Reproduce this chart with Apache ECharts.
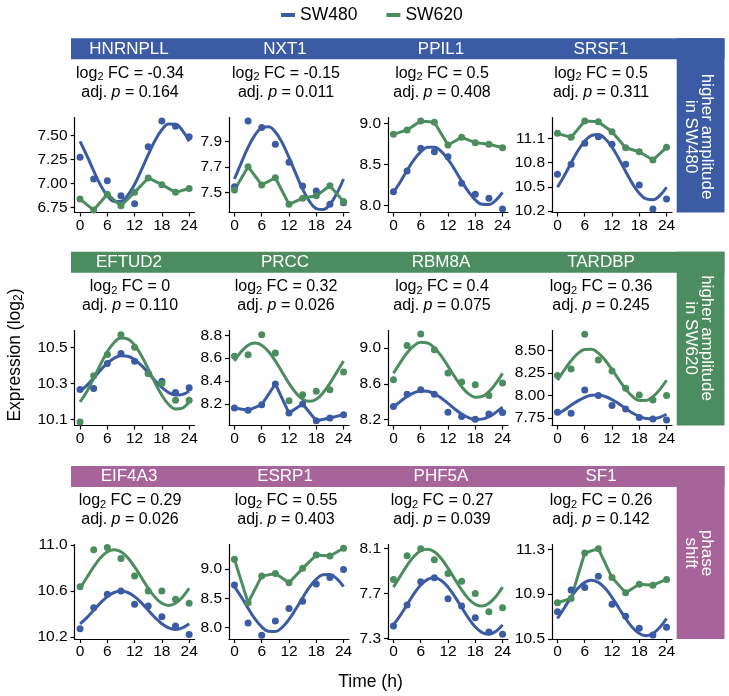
<!DOCTYPE html>
<html><head><meta charset="utf-8">
<script src="https://cdn.jsdelivr.net/npm/echarts@6/dist/echarts.min.js"></script>
<style>html,body{margin:0;padding:0;background:#fff}#c{width:729px;height:696px}</style>
</head><body><div id="c"></div>
<script>
// ---------- data ----------
const hours = [0, 3, 6, 9, 12, 15, 18, 21, 24];
const fitHours = [0, 1.5, 3, 4.5, 6, 7.5, 9, 10.5, 12, 13.5, 15, 16.5, 18, 19.5, 21, 22.5, 24];
const xTicks = [0, 6, 12, 18, 24];
const genes = ['HNRNPLL', 'NXT1', 'PPIL1', 'SRSF1', 'EFTUD2', 'PRCC', 'RBM8A', 'TARDBP', 'EIF4A3', 'ESRP1', 'PHF5A', 'SF1'];
const log2FC = ['-0.34', '-0.15', '0.5', '0.5', '0', '0.32', '0.4', '0.36', '0.29', '0.55', '0.27', '0.26'];
const adjP = ['0.164', '0.011', '0.408', '0.311', '0.110', '0.026', '0.075', '0.245', '0.026', '0.403', '0.039', '0.142'];
const groupLabels = ['higher amplitude\nin SW480', 'higher amplitude\nin SW620', 'phase\nshift'];

const sw480Points = [
  [7.275, 7.05, 7.03, 6.875, 6.79, 7.385, 7.653, 7.60, 7.49],
  [7.544, 8.064, 8.011, 7.879, 7.737, 7.55, 7.51, 7.405, 7.418],
  [8.17, 8.421, 8.697, 8.655, 8.595, 8.272, 8.138, 8.09, 7.96],
  [10.654, 10.778, 11.038, 11.12, 11.026, 10.778, 10.521, 10.224, 10.348],
  [10.267, 10.272, 10.41, 10.466, 10.423, 10.355, 10.313, 10.25, 10.276],
  [8.165, 8.145, 8.194, 8.375, 8.121, 8.2, 8.054, 8.078, 8.107],
  [8.348, 8.485, 8.533, 8.485, 8.284, 8.236, 8.206, 8.262, 8.281],
  [7.814, 7.803, 8.062, 8.0, 7.889, 7.851, 7.755, 7.739, 7.728],
  [10.272, 10.455, 10.571, 10.6, 10.484, 10.469, 10.377, 10.295, 10.222],
  [8.726, 8.079, 7.868, 8.113, 8.326, 8.451, 8.743, 8.857, 8.994],
  [7.413, 7.597, 7.803, 7.838, 7.653, 7.588, 7.486, 7.36, 7.34],
  [10.743, 10.936, 10.96, 11.06, 10.811, 10.704, 10.595, 10.535, 10.604]
];
const sw620Points = [
  [6.84, 6.725, 6.89, 6.77, 6.91, 7.06, 6.99, 6.91, 6.95],
  [7.518, 7.702, 7.558, 7.615, 7.405, 7.453, 7.473, 7.552, 7.426],
  [8.866, 8.919, 9.028, 9.012, 8.737, 8.83, 8.765, 8.745, 8.704],
  [11.162, 11.112, 11.314, 11.306, 11.182, 10.984, 10.934, 10.831, 10.988],
  [10.088, 10.343, 10.46, 10.57, 10.5, 10.355, 10.3, 10.208, 10.208],
  [8.617, 8.631, 8.805, 8.645, 8.229, 8.281, 8.311, 8.325, 8.48],
  [8.645, 9.029, 9.155, 8.98, 8.72, 8.619, 8.589, 8.47, 8.608],
  [8.223, 8.297, 8.683, 8.397, 8.274, 8.081, 8.007, 7.951, 8.0],
  [10.638, 10.958, 10.979, 10.883, 10.731, 10.6, 10.6, 10.528, 10.493],
  [9.166, 8.425, 8.88, 8.926, 8.765, 9.012, 9.24, 9.223, 9.355],
  [7.823, 8.034, 8.096, 7.999, 7.876, 7.808, 7.7, 7.539, 7.574],
  [10.823, 10.862, 11.267, 11.306, 11.048, 10.912, 10.989, 10.98, 11.031]
];
// fitted rhythmic curves, values read at fitHours; null = no fit drawn for that cell line
const sw480Fit = [
  [7.441, 7.293, 7.133, 6.986, 6.874, 6.815, 6.817, 6.880, 6.995, 7.143, 7.303, 7.450, 7.562, 7.621, 7.619, 7.556, 7.441],
  [7.605, 7.733, 7.855, 7.952, 8.009, 8.017, 7.976, 7.891, 7.775, 7.647, 7.525, 7.428, 7.371, 7.363, 7.404, 7.489, 7.605],
  [8.162, 8.288, 8.427, 8.555, 8.654, 8.708, 8.710, 8.659, 8.562, 8.436, 8.298, 8.169, 8.070, 8.016, 8.014, 8.065, 8.162],
  [10.494, 10.637, 10.795, 10.946, 11.065, 11.135, 11.146, 11.095, 10.990, 10.847, 10.689, 10.539, 10.419, 10.349, 10.339, 10.390, 10.494],
  [10.258, 10.290, 10.331, 10.374, 10.412, 10.440, 10.454, 10.451, 10.432, 10.400, 10.359, 10.317, 10.278, 10.250, 10.236, 10.239, 10.258],
  null,
  [8.340, 8.403, 8.459, 8.500, 8.521, 8.517, 8.489, 8.442, 8.382, 8.319, 8.263, 8.222, 8.201, 8.206, 8.233, 8.281, 8.340],
  [7.791, 7.838, 7.891, 7.940, 7.979, 8.002, 8.006, 7.989, 7.955, 7.908, 7.856, 7.806, 7.767, 7.744, 7.740, 7.757, 7.791],
  [10.315, 10.369, 10.433, 10.497, 10.551, 10.587, 10.600, 10.587, 10.551, 10.497, 10.433, 10.369, 10.315, 10.279, 10.266, 10.279, 10.315],
  [8.700, 8.523, 8.330, 8.150, 8.012, 7.936, 7.933, 8.005, 8.140, 8.317, 8.510, 8.690, 8.828, 8.904, 8.907, 8.835, 8.700],
  [7.422, 7.506, 7.602, 7.696, 7.774, 7.824, 7.838, 7.814, 7.756, 7.672, 7.576, 7.482, 7.404, 7.354, 7.340, 7.364, 7.422],
  [10.683, 10.777, 10.872, 10.952, 11.005, 11.024, 11.005, 10.952, 10.872, 10.777, 10.683, 10.602, 10.549, 10.530, 10.549, 10.602, 10.683]
];
const sw620Fit = [
  null, null, null, null,
  [10.198, 10.256, 10.329, 10.406, 10.476, 10.527, 10.551, 10.546, 10.512, 10.454, 10.381, 10.304, 10.235, 10.184, 10.159, 10.164, 10.198],
  [8.576, 8.658, 8.714, 8.733, 8.714, 8.658, 8.576, 8.478, 8.380, 8.298, 8.242, 8.223, 8.242, 8.298, 8.380, 8.478, 8.576],
  [8.717, 8.837, 8.945, 9.025, 9.063, 9.056, 9.002, 8.912, 8.797, 8.677, 8.569, 8.489, 8.451, 8.459, 8.512, 8.603, 8.717],
  [8.170, 8.283, 8.388, 8.469, 8.514, 8.515, 8.473, 8.394, 8.290, 8.177, 8.072, 7.991, 7.946, 7.945, 7.987, 8.066, 8.170],
  [10.624, 10.717, 10.810, 10.888, 10.941, 10.959, 10.941, 10.888, 10.810, 10.717, 10.624, 10.546, 10.493, 10.475, 10.493, 10.546, 10.624],
  null,
  [7.756, 7.853, 7.949, 8.027, 8.078, 8.092, 8.068, 8.009, 7.924, 7.827, 7.732, 7.653, 7.603, 7.588, 7.613, 7.671, 7.756],
  null
];
const yMin = [6.700, 7.340, 7.917, 10.181, 10.068, 8.012, 8.135, 7.666, 10.183, 7.805, 7.297, 10.500];
const yMax = [7.690, 8.091, 9.070, 11.358, 10.593, 8.842, 9.195, 8.725, 11.004, 9.420, 8.133, 11.343];
const yTickLabels = [
  ['6.75', '7.00', '7.25', '7.50'],
  ['7.5', '7.7', '7.9'],
  ['8.0', '8.5', '9.0'],
  ['10.2', '10.5', '10.8', '11.1'],
  ['10.1', '10.3', '10.5'],
  ['8.2', '8.4', '8.6', '8.8'],
  ['8.2', '8.6', '9.0'],
  ['7.75', '8.00', '8.25', '8.50'],
  ['10.2', '10.6', '11.0'],
  ['8.0', '8.5', '9.0'],
  ['7.3', '7.7', '8.1'],
  ['10.5', '10.9', '11.3']
];

// ---------- layout & style ----------
const FONT = '"Liberation Sans", Arial, Helvetica, sans-serif';
const BLUE = '#3B5BA5', GREEN = '#4B8D5E', PURPLE = '#A7649A';
const groupColors = [BLUE, GREEN, PURPLE];
const colLeft = [74.6, 229, 388, 552];
const colWidth = 120;
const stripTop = [38.3, 251.7, 466];
const plotTop = [117.5, 330.5, 544.5];
const plotH = [95, 95, 94.5];
const textCx = [130, 286, 442, 601];
const stripCx = [129, 285, 441, 601];
const boxLeft = 676.7, boxRight = 724.5, stripLeft = 71;
const groupTextY = [136.5, 338, 553];

const grids = [], xAxes = [], yAxes = [], series = [], graphics = [];

for (let i = 0; i < genes.length; i++) {
  const r = Math.floor(i / 4), c = i % 4;
  grids.push({ left: colLeft[c], top: plotTop[r], width: colWidth, height: plotH[r], containLabel: false, outerBoundsMode: 'none' });
  xAxes.push({
    gridIndex: i, type: 'value', min: -1.2, max: 25.2,
    axisLine: { show: true, onZero: false, lineStyle: { color: '#000', width: 1.2 } },
    axisTick: { show: true, length: 4, customValues: xTicks, lineStyle: { color: '#000', width: 1.2 } },
    axisLabel: { customValues: xTicks, fontSize: 15.5, fontFamily: FONT, color: '#000', margin: 5 },
    splitLine: { show: false }
  });
  const ticks = yTickLabels[i].map(Number);
  const labs = yTickLabels[i];
  yAxes.push({
    gridIndex: i, type: 'value', min: yMin[i], max: yMax[i],
    axisLine: { show: true, onZero: false, lineStyle: { color: '#000', width: 1.2 } },
    axisTick: { show: true, length: 4, customValues: ticks, lineStyle: { color: '#000', width: 1.2 } },
    axisLabel: {
      customValues: ticks, fontSize: 15.5, fontFamily: FONT, color: '#000', margin: 7,
      formatter: (v) => { let best = 0; ticks.forEach((t, k) => { if (Math.abs(t - v) < Math.abs(ticks[best] - v)) best = k; }); return labs[best]; }
    },
    splitLine: { show: false }
  });

  const addSeries = (name, color, pts, fit) => {
    const pdata = hours.map((h, k) => [h, pts[k]]);
    if (fit) {
      series.push({ name, type: 'scatter', xAxisIndex: i, yAxisIndex: i, data: pdata, symbol: 'circle', symbolSize: 7,
        itemStyle: { color, opacity: 1 }, silent: true, z: 3 });
      series.push({ name, type: 'line', xAxisIndex: i, yAxisIndex: i, data: fitHours.map((h, k) => [h, fit[k]]), smooth: 0.4,
        showSymbol: false, symbol: 'none', lineStyle: { color, width: 3 }, itemStyle: { color }, silent: true, z: 3 });
    } else {
      series.push({ name, type: 'line', xAxisIndex: i, yAxisIndex: i, data: pdata, symbol: 'circle', symbolSize: 7,
        showSymbol: true, lineStyle: { color, width: 3 }, itemStyle: { color, opacity: 1 }, silent: true, z: 3 });
    }
  };
  addSeries('SW480', BLUE, sw480Points[i], sw480Fit[i]);
  addSeries('SW620', GREEN, sw620Points[i], sw620Fit[i]);

  graphics.push({ type: 'text', x: stripCx[c], y: stripTop[r] + 10.8, z: 10,
    style: { text: genes[i], fill: '#fff', font: '17px ' + FONT, textAlign: 'center', textVerticalAlign: 'middle' } });
  graphics.push({ type: 'text', x: textCx[c], y: stripTop[r] + 44.5, z: 10,
    style: {
      text: '{n|log}{s|2}{n| FC = ' + log2FC[i] + '}\n{n|adj. }{i|p}{n| = ' + adjP[i] + '}',
      textAlign: 'center', textVerticalAlign: 'middle', fill: '#000',
      rich: {
        n: { fontSize: 16, fontFamily: FONT, lineHeight: 19, fill: '#000', verticalAlign: 'middle' },
        s: { fontSize: 11, fontFamily: FONT, lineHeight: 11, fill: '#000', verticalAlign: 'bottom' },
        i: { fontSize: 16, fontFamily: FONT, fontStyle: 'italic', lineHeight: 19, fill: '#000', verticalAlign: 'middle' }
      }
    } });
}

for (let r = 0; r < 3; r++) {
  const bottom = plotTop[r] + plotH[r];
  graphics.push({ type: 'rect', z: 5, shape: { x: stripLeft, y: stripTop[r], width: boxRight - stripLeft, height: 21 }, style: { fill: groupColors[r] } });
  graphics.push({ type: 'rect', z: 5, shape: { x: boxLeft, y: stripTop[r], width: boxRight - boxLeft, height: bottom - stripTop[r] }, style: { fill: groupColors[r] } });
  graphics.push({ type: 'text', z: 10, x: 699, y: groupTextY[r], rotation: -Math.PI / 2,
    style: { text: groupLabels[r], fill: '#fff', font: '17px ' + FONT, textAlign: 'center', textVerticalAlign: 'middle', lineHeight: 16 } });
}

graphics.push({ type: 'text', z: 10, x: 15, y: 355, rotation: Math.PI / 2,
  style: { text: '{n|Expression (log}{s|2}{n|)}', textAlign: 'center', textVerticalAlign: 'middle',
    rich: {
      n: { fontSize: 17.5, fontFamily: FONT, lineHeight: 20, fill: '#000', verticalAlign: 'middle' },
      s: { fontSize: 12, fontFamily: FONT, lineHeight: 12, fill: '#000', verticalAlign: 'bottom' }
    } } });
graphics.push({ type: 'text', z: 10, x: 370.5, y: 682,
  style: { text: 'Time (h)', fill: '#000', font: '17.5px ' + FONT, textAlign: 'center', textVerticalAlign: 'middle' } });

const chart = echarts.init(document.getElementById('c'), null, { renderer: 'canvas' });
chart.setOption({
  animation: false,
  backgroundColor: '#fff',
  legend: {
    data: [{ name: 'SW480', icon: 'rect' }, { name: 'SW620', icon: 'rect' }],
    left: 276, top: 1, itemWidth: 14, itemHeight: 4, itemGap: 29,
    textStyle: { fontSize: 17.5, fontFamily: FONT, color: '#000' },
    selectedMode: false
  },
  grid: grids, xAxis: xAxes, yAxis: yAxes, series: series, graphic: graphics
});
</script></body></html>
